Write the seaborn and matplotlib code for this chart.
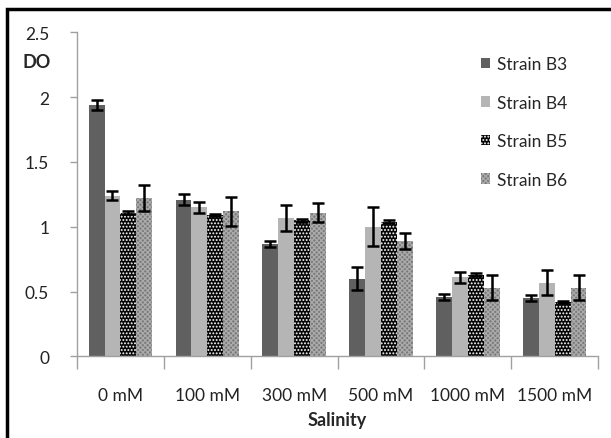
import numpy as np
import pandas as pd
import matplotlib
matplotlib.use("Agg")
import matplotlib.pyplot as plt
import seaborn as sns
from matplotlib.patches import Patch, Rectangle

categories = ["0 mM", "100 mM", "300 mM", "500 mM", "1000 mM", "1500 mM"]
strains = ["Strain B3", "Strain B4", "Strain B5", "Strain B6"]
b3 = [1.94, 1.21, 0.87, 0.60, 0.46, 0.45]
b4 = [1.24, 1.15, 1.07, 1.00, 0.61, 0.57]
b5 = [1.11, 1.09, 1.05, 1.04, 0.63, 0.42]
b6 = [1.22, 1.12, 1.11, 0.89, 0.53, 0.53]
b3_err = [0.04, 0.045, 0.024, 0.09, 0.025, 0.025]
b4_err = [0.035, 0.045, 0.10, 0.15, 0.04, 0.095]
b5_err = [0.01, 0.01, 0.01, 0.01, 0.01, 0.01]
b6_err = [0.10, 0.11, 0.07, 0.06, 0.095, 0.095]

values = [b3, b4, b5, b6]
errors = [b3_err, b4_err, b5_err, b6_err]

rows = []
for s, vals in zip(strains, values):
    for c, v in zip(categories, vals):
        rows.append({"Salinity": c, "Strain": s, "DO": v})
df = pd.DataFrame(rows)

sns.set_style("white")
plt.rcParams["font.family"] = ["Lato", "DejaVu Sans"]
plt.rcParams["hatch.linewidth"] = 0.9

face = ["#606060", "#b5b5b5", "#050505", "#7a7a7a"]
hatchc = [None, None, "#ffffff", "#ababab"]
hatches = [None, None, ".....", "xxxxxxx"]

fig = plt.figure(figsize=(6.11, 4.39), dpi=100)
ax = fig.add_axes([0.126, 0.1857, 0.853, 0.7385])

sns.barplot(data=df, x="Salinity", y="DO", hue="Strain", order=categories,
            hue_order=strains, palette=face, errorbar=None, width=0.73,
            ax=ax, legend=False, saturation=1)

bar_containers = list(ax.containers)
for i, cont in enumerate(bar_containers):
    for j, bar in enumerate(cont):
        bar.set_linewidth(0)
        if hatches[i]:
            bar.set_hatch(hatches[i])
            bar.set_edgecolor(hatchc[i])
        cx = bar.get_x() + bar.get_width() / 2
        ax.errorbar(cx, bar.get_height(), yerr=errors[i][j], fmt="none",
                    ecolor="black", elinewidth=1.8, capsize=4, capthick=1.8,
                    zorder=5)

ax.set_ylim(0, 2.5)
ax.set_xlim(-0.5, 5.5)
ax.set_yticks([0, 0.5, 1, 1.5, 2, 2.5])
ax.set_yticklabels(["0", "0.5", "1", "1.5", "2", "2.5"])
ax.set_xticks(range(6))
ax.set_xticklabels(categories)
ax.set_xticks(np.arange(-0.5, 6, 1), minor=True)
ax.tick_params(axis="x", which="major", length=0, pad=22, labelsize=12.5, colors="#222222")
ax.tick_params(axis="x", which="minor", length=9, width=1, color="#a0a0a0", direction="out", bottom=True)
ax.tick_params(axis="y", length=5, width=1, color="#a0a0a0", direction="out", left=True, labelsize=12.5, labelcolor="#222222", pad=15)
for side in ["top", "right"]:
    ax.spines[side].set_visible(False)
for side in ["left", "bottom"]:
    ax.spines[side].set_color("#a0a0a0")
    ax.spines[side].set_linewidth(1)

ax.set_xlabel("Salinity", fontsize=13, fontweight="bold", labelpad=6)
ax.set_ylabel("")
fig.text(23 / 611, 1 - 62 / 439, "DO", fontsize=13, fontweight="bold", ha="left", va="center")

handles = []
for i, s in enumerate(strains):
    handles.append(Patch(facecolor=face[i], hatch=hatches[i],
                         edgecolor=hatchc[i] if hatchc[i] else face[i], linewidth=0, label=s))
leg = ax.legend(handles=handles, loc="upper left", bbox_to_anchor=(0.745, 0.975),
                frameon=False, fontsize=12.5, handlelength=0.55, handleheight=0.55,
                handletextpad=0.35, labelspacing=1.3)

fig.patches.append(Rectangle((7 / 611, -0.05), 1.1, 1 - 10 / 439 + 0.05, transform=fig.transFigure,
                             fill=False, edgecolor="black", linewidth=2.5))

fig.savefig("out.png", dpi=100)
